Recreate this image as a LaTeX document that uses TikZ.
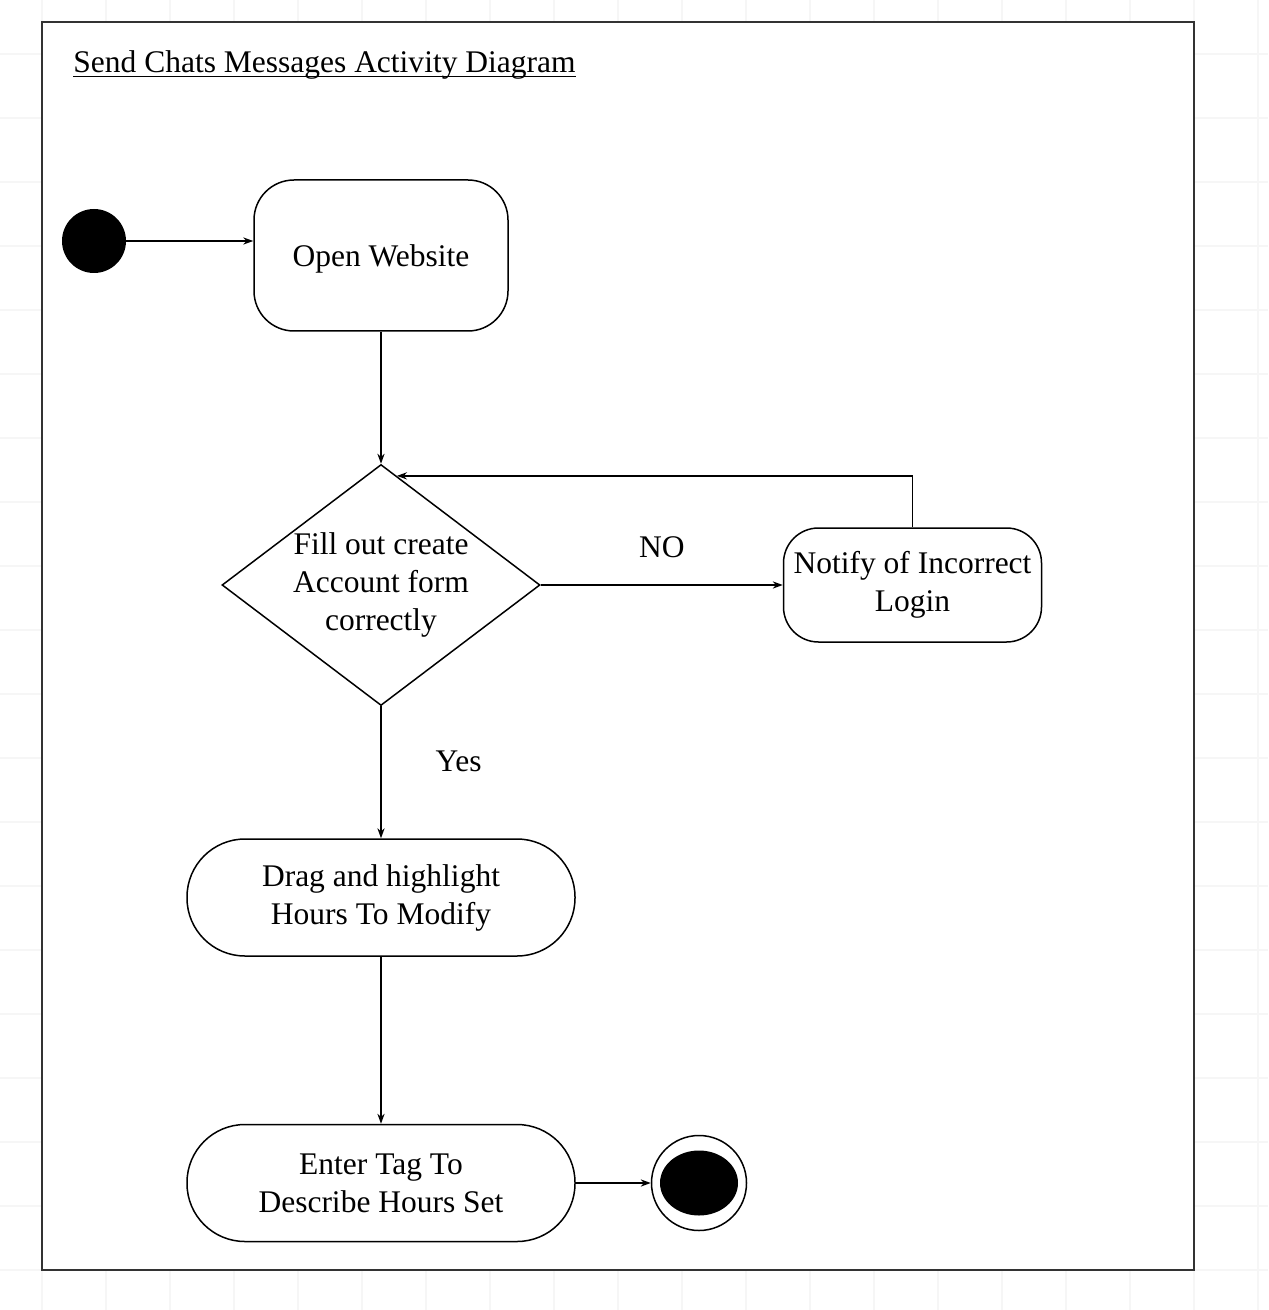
\documentclass[tikz,border=0pt]{standalone}
\usepackage{fontspec}
\setmainfont{Liberation Serif}
\usetikzlibrary{arrows.meta,positioning,shapes.geometric,calc}
\newcommand\titleline[1]{\leavevmode\setbox0\hbox{#1}\rlap{\rule[-2pt]{\wd0}{0.6pt}}\box0}

\begin{document}
\begin{tikzpicture}[
    x=0.5pt, y=-0.5pt,
    font=\fontsize{15.75pt}{19pt}\selectfont,
    act/.style={draw, rounded corners=20pt, align=center, inner sep=2pt, line width=0.75pt},
    pill/.style={act, rounded corners=29pt, minimum width=194pt, minimum height=58.5pt},
    decision/.style={draw, diamond, aspect=1.32, align=center, inner sep=0pt, minimum width=159pt, minimum height=120.5pt, line width=0.75pt},
    edge/.style={-{Stealth[length=5pt, width=3.6pt]}, line width=0.7pt},
    w/.style={inner sep=1pt},
    gridline/.style={draw=gray!7, line width=1pt}
]
\useasboundingbox (0,0) rectangle (1268,1310);
% background grid and frame
\foreach \gx in {42,106,...,1258} \draw[gridline] (\gx,0) -- (\gx,1310);
\foreach \gy in {54,118,...,1310} \draw[gridline] (0,\gy) -- (1268,\gy);
\draw[draw=black!80, fill=white, line width=1.2pt] (42,22) rectangle (1194,1270);
\node[anchor=base west, inner sep=0pt] (title) at (73,73) {\titleline{Send Chats Messages Activity Diagram}};

\node[circle, fill=black, minimum size=32pt, inner sep=0pt] (start) at (94,241) {};
\node[act, minimum width=127pt, minimum height=75.5pt, text depth=-3pt] (open) at (381,255.5) {Open Website};
\node[decision, below=66pt of open] (dec) {Fill out create\\Account form\\correctly};
\node[act, rounded corners=17.5pt, minimum width=129pt, minimum height=57pt, right=121pt of dec] (notify) {Notify of Incorrect\\Login};
\node[pill, below=66pt of dec] (drag) {Drag and highlight\\Hours To Modify};
\node[pill, below=83.5pt of drag] (enter) {Enter Tag To\\Describe Hours Set};
\node[circle, draw, line width=0.75pt, minimum size=47.5pt, inner sep=0pt, right=37.5pt of enter] (final) {};
\fill (final.center) ellipse [x radius=19.5pt, y radius=16.25pt];

\draw[edge] (start) -- (start -| open.west);
\draw[edge] (open) -- (dec);
\draw[edge] (dec) -- node[w, above=12pt]{NO} (notify);
\draw[edge] (notify.north) |- ($(dec.north)!0.1!(dec.east)$);
\draw[edge] (dec) -- node[w, right=26pt, pos=0.42]{Yes} (drag);
\draw[edge] (drag) -- (enter);
\draw[edge] (enter) -- (final);
\end{tikzpicture}
\end{document}
